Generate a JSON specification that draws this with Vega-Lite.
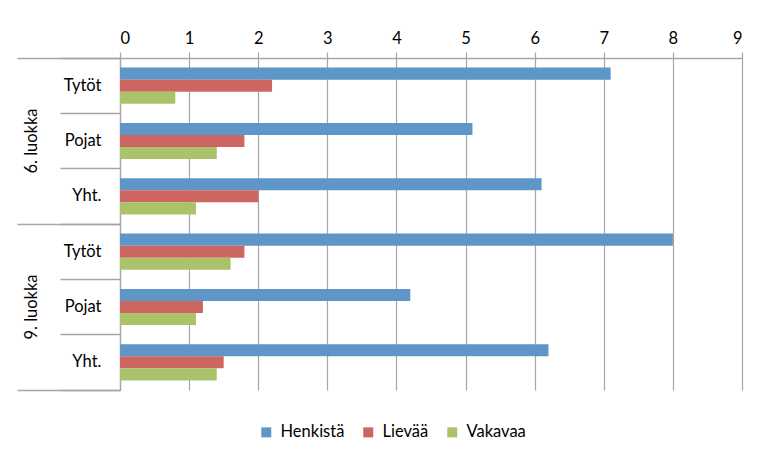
{
  "$schema": "https://vega.github.io/schema/vega-lite/v6.json",
  "width": 622,
  "height": 332,
  "autosize": "none",
  "padding": {"left": 120, "top": 58, "right": 23, "bottom": 73},
  "background": "white",
  "config": {
    "view": {"stroke": null},
    "font": "Lato",
    "axis": {"labelFont": "Lato", "labelFontSize": 16.5, "labelColor": "#000000"},
    "legend": {"labelFont": "Lato"}
  },
  "data": {
    "values": [
      {"cat": "6|Tytöt", "series": "Henkistä", "value": 7.1},
      {"cat": "6|Tytöt", "series": "Lievää", "value": 2.2},
      {"cat": "6|Tytöt", "series": "Vakavaa", "value": 0.8},
      {"cat": "6|Pojat", "series": "Henkistä", "value": 5.1},
      {"cat": "6|Pojat", "series": "Lievää", "value": 1.8},
      {"cat": "6|Pojat", "series": "Vakavaa", "value": 1.4},
      {"cat": "6|Yht.", "series": "Henkistä", "value": 6.1},
      {"cat": "6|Yht.", "series": "Lievää", "value": 2.0},
      {"cat": "6|Yht.", "series": "Vakavaa", "value": 1.1},
      {"cat": "9|Tytöt", "series": "Henkistä", "value": 8.0},
      {"cat": "9|Tytöt", "series": "Lievää", "value": 1.8},
      {"cat": "9|Tytöt", "series": "Vakavaa", "value": 1.6},
      {"cat": "9|Pojat", "series": "Henkistä", "value": 4.2},
      {"cat": "9|Pojat", "series": "Lievää", "value": 1.2},
      {"cat": "9|Pojat", "series": "Vakavaa", "value": 1.1},
      {"cat": "9|Yht.", "series": "Henkistä", "value": 6.2},
      {"cat": "9|Yht.", "series": "Lievää", "value": 1.5},
      {"cat": "9|Yht.", "series": "Vakavaa", "value": 1.4}
    ]
  },
  "layer": [
    {
      "mark": {"type": "bar"},
      "encoding": {
        "y": {
          "field": "cat", "type": "nominal", "sort": null,
          "scale": {"paddingInner": 0, "paddingOuter": 0},
          "axis": {
            "title": null, "orient": "left", "bandPosition": 1, "tickExtra": true,
            "tickSize": 60, "tickColor": "#a6a6a6", "tickWidth": 1.3,
            "domainColor": "#a6a6a6", "domainWidth": 1.3,
            "labelExpr": "split(datum.value, '|')[1]", "labelPadding": -41
          }
        },
        "yOffset": {
          "field": "series", "type": "nominal", "sort": ["Henkistä", "Lievää", "Vakavaa"],
          "scale": {"paddingInner": 0, "paddingOuter": 0.8}
        },
        "x": {
          "field": "value", "type": "quantitative",
          "scale": {"domain": [0, 9], "nice": false},
          "axis": {
            "orient": "top", "title": null, "values": [0, 1, 2, 3, 4, 5, 6, 7, 8, 9], "format": "d",
            "grid": true, "gridColor": "#a6a6a6", "gridWidth": 1.2,
            "domainColor": "#a6a6a6", "domainWidth": 1.3,
            "tickColor": "#a6a6a6", "tickWidth": 1.2, "tickSize": 6, "labelPadding": 6
          }
        },
        "color": {
          "field": "series", "type": "nominal",
          "scale": {"domain": ["Henkistä", "Lievää", "Vakavaa"], "range": ["#5F96C8", "#CD6660", "#AAC36B"]},
          "legend": {
            "orient": "none", "legendX": 138, "legendY": 366, "direction": "horizontal",
            "title": null, "symbolType": "square", "symbolSize": 100, "symbolStrokeWidth": 0,
            "labelFontSize": 16.5, "labelColor": "#000000", "labelOffset": 6, "columnPadding": 15
          }
        }
      }
    },
    {
      "mark": {"type": "bar", "opacity": 0},
      "encoding": {
        "y": {
          "field": "cat", "type": "nominal", "sort": null,
          "axis": {
            "title": null, "orient": "left", "bandPosition": 1, "values": ["6|Yht.", "9|Yht."],
            "tickSize": 103, "tickColor": "#a6a6a6", "tickWidth": 1.3, "labels": false, "domain": false
          }
        },
        "x": {"field": "value", "type": "quantitative"}
      }
    },
    {
      "mark": {"type": "bar", "opacity": 0},
      "encoding": {
        "y": {
          "field": "cat", "type": "nominal", "sort": null,
          "axis": {
            "title": null, "orient": "left", "bandPosition": 0, "values": ["6|Tytöt"],
            "tickSize": 103, "tickColor": "#a6a6a6", "tickWidth": 1.3, "labels": false, "domain": false
          }
        },
        "x": {"field": "value", "type": "quantitative"}
      }
    },
    {
      "mark": {"type": "bar", "opacity": 0},
      "encoding": {
        "y": {
          "field": "cat", "type": "nominal", "sort": null,
          "axis": {
            "title": null, "orient": "left", "values": ["6|Pojat", "9|Pojat"],
            "ticks": false, "domain": false, "labelAngle": -90,
            "labelAlign": "center", "labelBaseline": "middle", "labelPadding": 89,
            "labelExpr": "split(datum.value, '|')[0] + '. luokka'"
          }
        },
        "x": {"field": "value", "type": "quantitative"}
      }
    }
  ],
  "resolve": {"axis": {"y": "independent"}}
}
